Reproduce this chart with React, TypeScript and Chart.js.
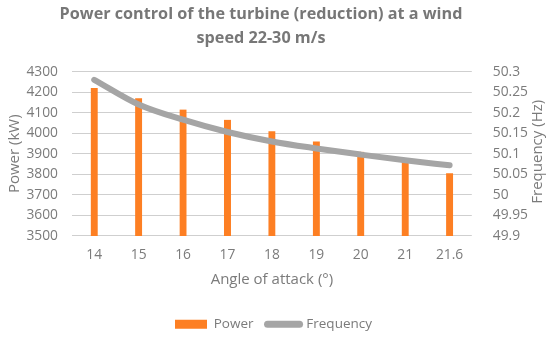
import React, { useEffect, useRef } from "react";
import { Chart, registerables } from "chart.js";

Chart.register(...registerables);

const categories = ["14", "15", "16", "17", "18", "19", "20", "21", "21.6"];
const powerValues = [4220, 4170, 4115, 4065, 4010, 3960, 3910, 3860, 3805];
const frequencyValues = [50.28, 50.22, 50.183, 50.153, 50.13, 50.113, 50.098, 50.084, 50.072];
const titleLines = ["Power control of the turbine (reduction) at a wind", "speed 22-30 m/s"];
const powerAxisTitle = "Power (kW)";
const frequencyAxisTitle = "Frequency (Hz)";
const xAxisTitle = "Angle of attack (°)";

const FONT = "'Open Sans', sans-serif";
const TEXT = "#7b7b7b";
const ORANGE = "#fd7f23";
const GRAY = "#a5a5a5";
const BLUE = "#5b9bd5";

export default function App() {
  const ref = useRef<HTMLCanvasElement>(null);
  useEffect(() => {
    document.body.style.margin = "0";
    const extras = {
      id: "extras",
      afterLayout(chart: any) {
        const t = chart.titleBlock;
        if (t) t.left -= 25;
      },
      afterDraw(chart: any) {
        const { ctx, chartArea } = chart;
        ctx.save();
        ctx.fillStyle = TEXT;
        ctx.font = `15px ${FONT}`;
        ctx.textAlign = "center";
        ctx.textBaseline = "middle";
        ctx.translate(538, (chartArea.top + chartArea.bottom) / 2 - 2);
        ctx.rotate(-Math.PI / 2);
        ctx.fillText(frequencyAxisTitle, 0, 0);
        ctx.restore();
      },
    };
    const chart = new Chart(ref.current as HTMLCanvasElement, {
      type: "bar",
      data: {
        labels: categories,
        datasets: [
          {
            type: "line",
            label: "Frequency",
            data: frequencyValues,
            yAxisID: "y1",
            borderColor: GRAY,
            backgroundColor: GRAY,
            borderWidth: 6,
            pointRadius: 0,
            tension: 0.4,
            cubicInterpolationMode: "monotone",
            borderCapStyle: "round",
            order: 0,
          } as any,
          {
            type: "bar",
            label: "Power",
            data: powerValues,
            yAxisID: "y",
            backgroundColor: ORANGE,
            borderColor: BLUE,
            borderWidth: { top: 0, left: 0, right: 0, bottom: 1 },
            borderSkipped: false,
            barThickness: 7,
            order: 1,
          } as any,
        ],
      },
      options: {
        responsive: false,
        animation: false,
        layout: { padding: { left: 6, right: 9, top: 2, bottom: 0 } },
        plugins: {
          title: {
            display: true,
            text: titleLines,
            color: "#777777",
            font: { family: FONT, size: 16.2, weight: "bold", lineHeight: 1.5 },
            padding: { top: 0, bottom: 21 },
          },
          legend: {
            position: "bottom",
            labels: {
              color: TEXT,
              font: { family: FONT, size: 13.5 },
              usePointStyle: true,
              pointStyleWidth: 32,
              boxHeight: 9,
              padding: 14,
              sort: (a: any, b: any) => (a.text === "Power" ? -1 : 1),
              generateLabels: (ch: any) => {
                const items = Chart.defaults.plugins.legend.labels.generateLabels(ch);
                return items.map((it: any) => {
                  if (it.text === "Power") {
                    return { ...it, pointStyle: "rect", fillStyle: ORANGE, strokeStyle: ORANGE, lineWidth: 0 };
                  }
                  return { ...it, pointStyle: "line", strokeStyle: GRAY, fillStyle: GRAY, lineWidth: 7, lineCap: "round" };
                });
              },
            },
          },
          tooltip: { enabled: false },
        },
        scales: {
          x: {
            grid: { display: false },
            border: { display: false },
            ticks: { color: TEXT, font: { family: FONT, size: 13.8 }, padding: 3 },
            title: { display: true, text: xAxisTitle, color: TEXT, font: { family: FONT, size: 15 }, padding: { top: 4, bottom: 15 } },
          },
          y: {
            position: "left",
            min: 3500,
            max: 4300,
            afterFit: (s: any) => { s.width = 66; },
            ticks: {
              stepSize: 100,
              color: TEXT,
              font: { family: FONT, size: 13.8 },
              padding: 14,
              callback: (v: any) => String(v),
            },
            grid: { display: true, color: "#cfcfcf", lineWidth: 1, drawTicks: false },
            border: { display: false },
            title: { display: true, text: powerAxisTitle, color: TEXT, font: { family: FONT, size: 15 }, padding: { top: 0, bottom: 3 } },
          },
          y1: {
            position: "right",
            min: 49.9,
            max: 50.3,
            ticks: {
              stepSize: 0.05,
              color: TEXT,
              font: { family: FONT, size: 13.8 },
              padding: 13,
              callback: (v: any) => String(Number(Number(v).toFixed(2))),
            },
            grid: { display: false },
            border: { display: false },
          },
        },
      },
      plugins: [extras],
    });
    return () => chart.destroy();
  }, []);
  return (
    <div style={{ width: 550, height: 341 }}>
      <canvas ref={ref} width={550} height={341} />
    </div>
  );
}
